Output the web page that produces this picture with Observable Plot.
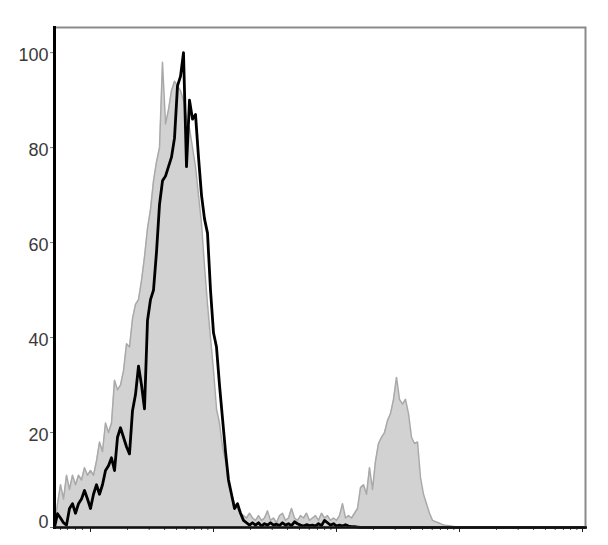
<!DOCTYPE html>
<html>
<head>
<meta charset="utf-8">
<script src="https://cdn.jsdelivr.net/npm/d3@7"></script>
<script src="https://cdn.jsdelivr.net/npm/@observablehq/plot@0.6"></script>
<style>
  html, body { margin: 0; padding: 0; background: #fff; }
  svg { display: block; }
</style>
</head>
<body>
<div id="chart"></div>
<script>
// Histogram counts (% of max) per channel bin (bin index 0..177)
const grayCounts = [
  0, 5, 9, 6, 11, 8, 11, 9, 11, 10, 12.6, 11, 12, 11, 14, 18, 16, 22, 20, 22,
  31, 29, 30, 33, 38.7, 38, 44, 47, 48, 52, 57, 63, 67, 73, 77, 80, 98, 85, 88, 92,
  94, 93, 92, 90, 86, 84, 80, 76, 70, 64, 55, 47, 40, 33, 25, 22, 17, 14, 9, 7,
  5, 4, 3, 2.5, 2, 3, 2, 1.5, 2.5, 1.5, 2, 3.5, 1.5, 2, 1, 2.5, 3, 1.5, 2, 4,
  2, 1.5, 2.5, 2, 3, 1.5, 2, 2.5, 1.5, 3, 2, 2.5, 1.5, 2, 1.5, 2.5, 5, 2, 2.5, 2,
  3, 4, 8.4, 9, 7, 12.6, 8, 14, 17.7, 19, 20, 22.5, 24, 27, 31.6, 27, 26, 27, 24, 19,
  17.7, 18, 10.5, 7, 5, 3, 1.5, 1.2, 1, 0.7, 0.5, 0.4, 0.3, 0.2, 0.1, 0, 0, 0, 0, 0,
  0, 0, 0, 0, 0, 0, 0, 0, 0, 0, 0, 0, 0, 0, 0, 0, 0, 0, 0, 0,
  0, 0, 0, 0, 0, 0, 0, 0, 0, 0, 0, 0, 0, 0, 0, 0, 0, 0
];
const blackCounts = [
  0, 2.9, 2, 1, 0.5, 4, 5, 3, 5, 6, 7.8, 6, 4, 7, 9, 7, 9, 12, 13, 14.7,
  12, 19, 21, 19, 17, 15.5, 24.6, 28, 34, 30, 25, 43.6, 48, 50, 58, 68, 73, 74, 76, 78,
  82, 93, 95, 100, 76, 90, 86, 87, 78, 70, 65, 62, 50, 41, 38, 30, 23, 16, 10, 7,
  4, 5, 3, 1.5, 1, 0.5, 1, 0.5, 1, 0.3, 0.8, 0.5, 1, 0.5, 0.7, 0.4, 1, 0.5, 0.8, 0.4,
  1.2, 0.8, 0.5, 0.3, 0.6, 0.4, 0.5, 0.3, 0.8, 0.4, 1.5, 1, 0.5, 0.8, 0.3, 0.5, 0.3, 0.6, 0.3, 0.2,
  0.2, 0.1, 0, 0, 0, 0, 0, 0, 0, 0, 0, 0, 0, 0, 0, 0, 0, 0, 0, 0,
  0, 0, 0, 0, 0, 0, 0, 0, 0, 0, 0, 0, 0, 0, 0, 0, 0, 0, 0, 0,
  0, 0, 0, 0, 0, 0, 0, 0, 0, 0, 0, 0, 0, 0, 0, 0, 0, 0, 0, 0,
  0, 0, 0, 0, 0, 0, 0, 0, 0, 0, 0, 0, 0, 0, 0, 0, 0, 0
];
const yTicks = [0, 20, 40, 60, 80, 100];
// x axis: bin positions of decade (major) ticks, and bins per decade
const majorTicks = [12, 53, 94, 135, 176];
const linearTicks = [2, 4.3, 7, 9.3];
const binsPerDecade = 41;
const minorTicks = linearTicks.concat(
  majorTicks.slice(0, -1).flatMap(m => d3.range(2, 10).map(k => m + binsPerDecade * Math.log10(k)))
);

const grayData = grayCounts.map((v, i) => ({bin: i, v}));
const blackData = blackCounts.map((v, i) => ({bin: i, v}));

const chart = Plot.plot({
  width: 608,
  height: 545,
  marginLeft: 54,
  marginRight: 23,
  marginTop: 27,
  marginBottom: 18,
  style: {fontFamily: "Liberation Sans, Arial, sans-serif", background: "#fff"},
  x: {domain: [0, grayCounts.length - 1], axis: null},
  y: {domain: [0, 105.3], axis: null},
  marks: [
    Plot.areaY(grayData, {x: "bin", y: "v", fill: "#d2d2d2"}),
    Plot.lineY(grayData, {x: "bin", y: "v", stroke: "#a9a9a9", strokeWidth: 1.5}),
    Plot.lineY(blackData, {x: "bin", y: "v", stroke: "#000", strokeWidth: 2.8}),
    Plot.frame({stroke: "#8a8a8a", strokeWidth: 2}),
    Plot.axisY({ticks: yTicks, tickSize: 4, tickFormat: () => "", stroke: "#777", label: null}),
    Plot.axisY({ticks: yTicks.slice(1), tickSize: 0, tickPadding: 6, fontSize: 18, fill: "#3a3a3a", label: null, dy: 3}),
    Plot.axisY({ticks: yTicks.slice(0, 1), tickSize: 0, tickPadding: 6, fontSize: 18, fill: "#3a3a3a", label: null, dy: -5}),
    Plot.axisX({ticks: majorTicks, tickSize: 5, tickFormat: () => "", stroke: "#222", label: null}),
    Plot.axisX({ticks: minorTicks, tickSize: 3, tickFormat: () => "", stroke: "#444", label: null}),
    Plot.frame({anchor: "left", stroke: "#000", strokeWidth: 3}),
    Plot.frame({anchor: "bottom", stroke: "#111", strokeWidth: 2.5})
  ]
});
document.getElementById("chart").appendChild(chart);
</script>
</body>
</html>
